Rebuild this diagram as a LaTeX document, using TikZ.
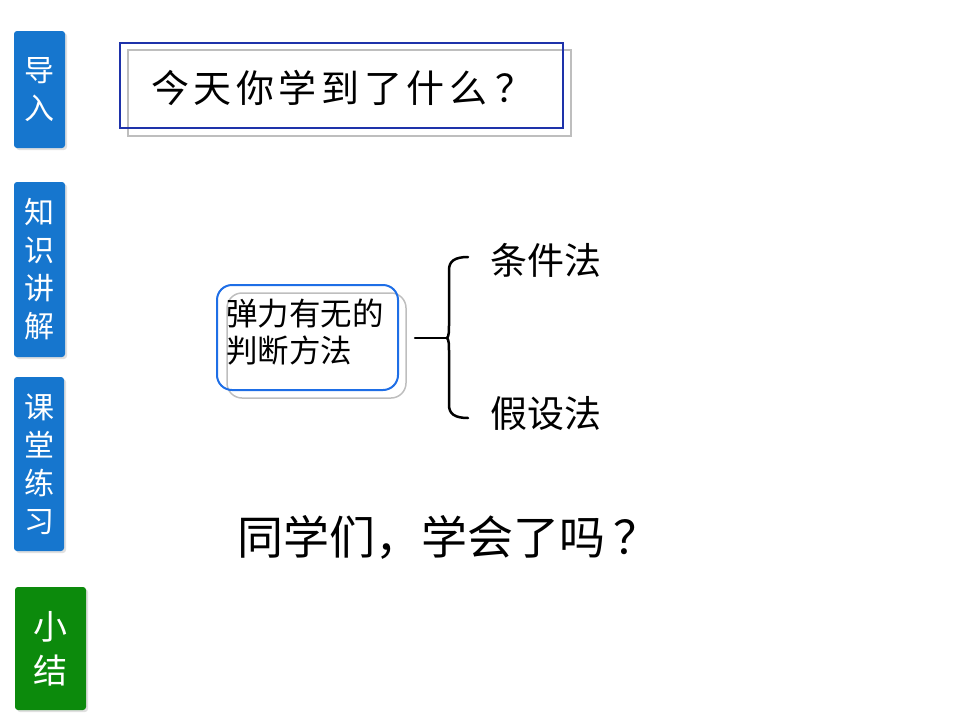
\documentclass[tikz,border=0pt]{standalone}
\usepackage{fontspec}
\newfontfamily\cjk{Noto Sans CJK SC}
\newfontfamily\cjkspaced{Noto Sans CJK SC}[LetterSpace=12]
\definecolor{tabblue}{RGB}{22,118,206}
\definecolor{tabgreen}{RGB}{12,138,12}
\definecolor{frameblue}{RGB}{30,50,170}
\definecolor{roundblue}{RGB}{30,110,230}
\definecolor{shadowgray}{RGB}{190,190,190}
\begin{document}
\begin{tikzpicture}[x=1pt,y=-1pt,
  tab/.style={rounded corners=3pt,inner sep=0pt,outer sep=0pt,text=white,align=center,
    font=\cjk\fontsize{30}{38}\selectfont},
  bluetab/.style={tab,fill=tabblue},
  greentab/.style={tab,fill=tabgreen,font=\cjk\fontsize{34}{44}\selectfont},
  shadowrect/.style={draw=shadowgray,line width=1.5pt},
  bigtext/.style={inner sep=0pt,font=\cjk\fontsize{37}{40}\selectfont},
  bracestyle/.style={line width=2.5pt,line cap=round,line join=round}]
\useasboundingbox (0,0) rectangle (960,720);
% left tabs
\fill[black!12,rounded corners=3pt] (16,33) rectangle (67,150);
\node[bluetab,minimum width=51pt,minimum height=117pt] (t1) at (39.5,89.5) {导\\入};
\fill[black!12,rounded corners=3pt] (16,184) rectangle (67,359);
\node[bluetab,minimum width=51pt,minimum height=175pt] (t2) at (39.5,269.5) {知\\识\\讲\\解};
\fill[black!12,rounded corners=3pt] (16,379) rectangle (66,553);
\node[bluetab,minimum width=50pt,minimum height=174pt] (t3) at (39,464) {课\\堂\\练\\习};
\fill[black!12,rounded corners=3pt] (17,589) rectangle (88,712);
\node[greentab,minimum width=71pt,minimum height=123pt] (t4) at (50.5,648.5) {小\\结};
% title box
\draw[shadowrect] (128,50) rectangle (571,136);
\node[draw=frameblue,line width=1.5pt,minimum width=443pt,minimum height=85pt,inner sep=0pt] (title) at (341.5,85.5) {};
\node[inner sep=0pt,font=\cjkspaced\fontsize{38}{40}\selectfont,anchor=west] (titletext) at (151,88) {今天你学到了什么\kern8pt？};
% rounded box
\draw[shadowrect,rounded corners=15pt] (227,293) rectangle (406,398);
\node[draw=roundblue,line width=2pt,rounded corners=15pt,minimum width=181pt,minimum height=105pt,inner sep=0pt] (box) at (307.5,337.5) {};
\node[inner sep=0pt,anchor=north west,align=left,font=\cjk\fontsize{31.5}{37}\selectfont] (boxtext) at (226,299) {弹力有无的\\判断方法};
% brace
\coordinate (stem) at (415,338);
\coordinate (tip) at (447,338);
\coordinate (btop) at (468,257);
\coordinate (bbot) at (468,418);
\draw[bracestyle] (stem) -- (tip);
\draw[bracestyle] (tip) .. controls (449,336) and (449,332) .. (449,322) -- (449,270) .. controls (449,261) and (455,257) .. (btop);
\draw[bracestyle] (tip) .. controls (449,340) and (449,344) .. (449,354) -- (449,405) .. controls (449,414) and (455,418) .. (bbot);
\node[bigtext,anchor=west] (m1) at (490,260) {条件法};
\node[bigtext,anchor=west] (m2) at (490,413) {假设法};
% bottom text
\node[inner sep=0pt,anchor=west,font=\cjk\fontsize{46}{48}\selectfont] (q) at (237,537) {同学们，学会了吗\kern8pt？};
\end{tikzpicture}
\end{document}
